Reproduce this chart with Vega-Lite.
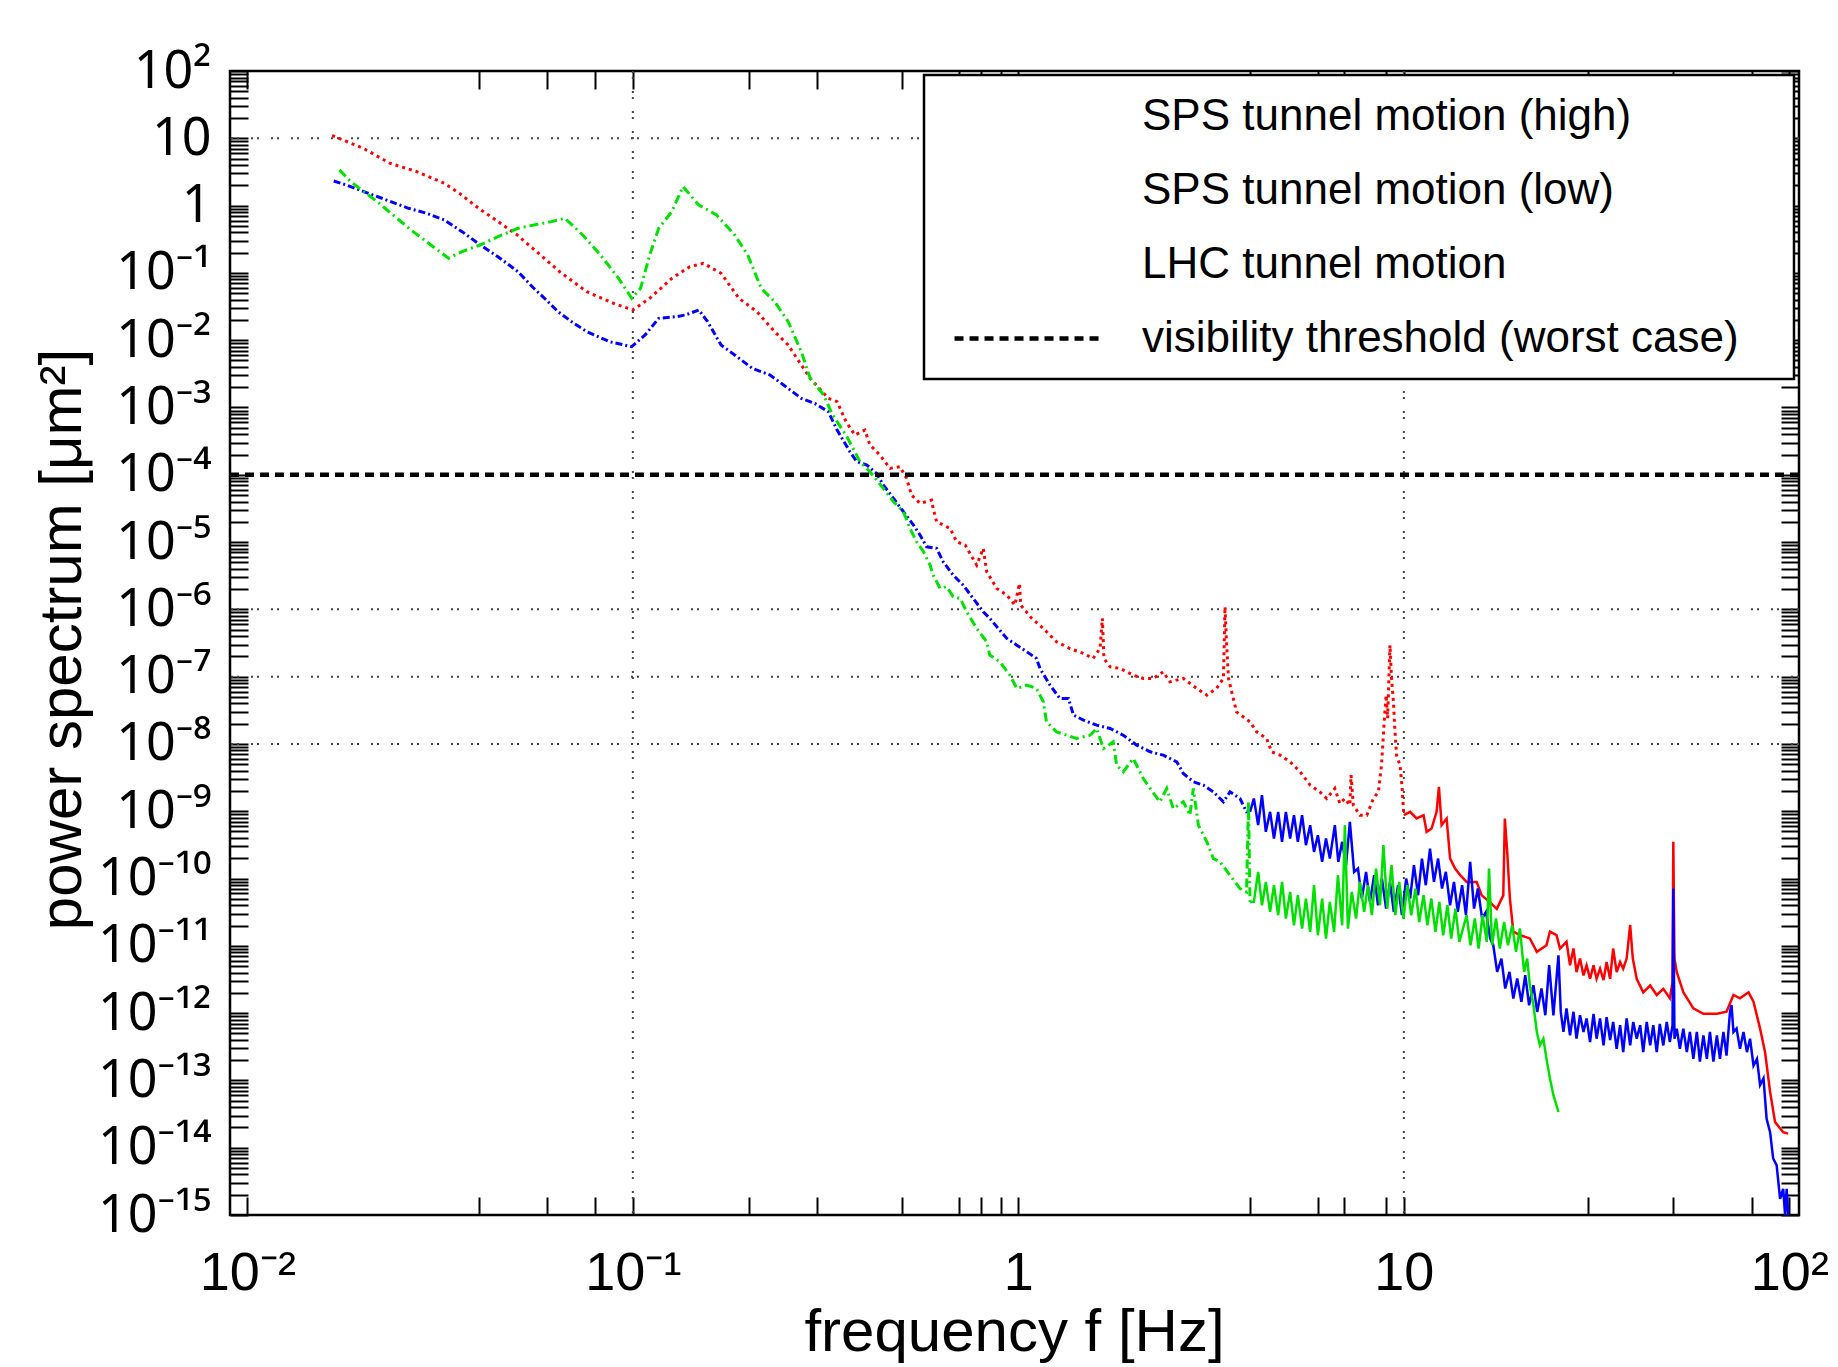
{
  "$schema": "https://vega.github.io/schema/vega-lite/v6.json",
  "width": 1569,
  "height": 1144,
  "autosize": {"type": "none"},
  "padding": {"left": 230, "top": 71, "right": 39, "bottom": 152},
  "background": "white",
  "config": {
    "font": "Liberation Sans",
    "view": {"stroke": "black", "strokeWidth": 2.5},
    "axis": {
      "domain": false, "grid": false, "tickColor": "black", "tickWidth": 2, "tickSize": -18,
      "labelFont": "Liberation Sans", "labelFontSize": 54, "labelColor": "black",
      "titleFont": "Liberation Sans", "titleFontSize": 60, "titleFontWeight": "normal", "titleColor": "black",
      "labelOverlap": false, "labelFlush": false
    }
  },
  "datasets": {
    "red": [
      {"f":0.0166,"p":11.0},{"f":0.0200,"p":7.08},{"f":0.0234,"p":4.27},{"f":0.0275,"p":3.20},{"f":0.0324,"p":2.15},{"f":0.0355,"p":1.52},{"f":0.0398,"p":0.912},{"f":0.0447,"p":0.578},{"f":0.0501,"p":0.366},{"f":0.0589,"p":0.165},{"f":0.0646,"p":0.104},{"f":0.0759,"p":0.0526},{"f":0.0891,"p":0.0353},{"f":0.100,"p":0.0281},{"f":0.1106,"p":0.0419},{"f":0.1262,"p":0.0830},{"f":0.1406,"p":0.1239},{"f":0.1524,"p":0.1387},{"f":0.1694,"p":0.0986},{"f":0.1884,"p":0.0419},{"f":0.2099,"p":0.0265},{"f":0.2333,"p":0.01337},{"f":0.2529,"p":0.00847},{"f":0.2735,"p":0.00428},{"f":0.2884,"p":0.00271},{"f":0.3214,"p":0.001365},{"f":0.3388,"p":0.00122},{"f":0.3573,"p":6.14e-4},{"f":0.3767,"p":3.89e-4},{"f":0.3999,"p":4.62e-4},{"f":0.4121,"p":2.77e-4},{"f":0.4375,"p":1.963e-4},{"f":0.4645,"p":1.245e-4},{"f":0.4932,"p":1.318e-4},{"f":0.5129,"p":8.83e-5},{"f":0.5284,"p":4.99e-5},{"f":0.5559,"p":3.76e-5},{"f":0.5957,"p":4.21e-5},{"f":0.6012,"p":3.16e-5},{"f":0.6138,"p":2.00e-5},{"f":0.6653,"p":1.596e-5},{"f":0.6918,"p":1.01e-5},{"f":0.7278,"p":9.02e-6},{"f":0.7798,"p":4.55e-6},{"f":0.8110,"p":8.05e-6},{"f":0.8279,"p":3.62e-6},{"f":0.8790,"p":2.05e-6},{"f":0.9333,"p":1.63e-6},{"f":0.9795,"p":1.156e-6},{"f":1.007,"p":2.43e-6},{"f":1.014,"p":1.156e-6},{"f":1.084,"p":7.33e-7},{"f":1.161,"p":5.20e-7},{"f":1.256,"p":3.30e-7},{"f":1.361,"p":2.62e-7},{"f":1.476,"p":2.21e-7},{"f":1.563,"p":1.862e-7},{"f":1.629,"p":2.62e-7},{"f":1.652,"p":7.33e-7},{"f":1.667,"p":1.862e-7},{"f":1.730,"p":1.40e-7},{"f":1.837,"p":1.324e-7},{"f":1.986,"p":1.054e-7},{"f":2.109,"p":9.40e-8},{"f":2.239,"p":9.40e-8},{"f":2.377,"p":1.180e-7},{"f":2.472,"p":8.39e-8},{"f":2.679,"p":9.40e-8},{"f":2.904,"p":6.67e-8},{"f":3.083,"p":5.31e-8},{"f":3.266,"p":6.67e-8},{"f":3.404,"p":9.40e-8},{"f":3.436,"p":1.09e-6},{"f":3.467,"p":3.30e-7},{"f":3.508,"p":9.40e-8},{"f":3.681,"p":3.00e-8},{"f":3.990,"p":2.13e-8},{"f":4.150,"p":1.514e-8},{"f":4.406,"p":1.205e-8},{"f":4.539,"p":7.64e-9},{"f":4.775,"p":6.81e-9},{"f":5.070,"p":5.42e-9},{"f":5.383,"p":3.85e-9},{"f":5.715,"p":2.44e-9},{"f":6.053,"p":1.94e-9},{"f":6.310,"p":1.545e-9},{"f":6.622,"p":2.18e-9},{"f":6.823,"p":1.303e-9},{"f":7.031,"p":1.545e-9},{"f":7.244,"p":1.230e-9},{"f":7.295,"p":3.44e-9},{"f":7.396,"p":1.230e-9},{"f":7.691,"p":8.73e-10},{"f":8.017,"p":8.73e-10},{"f":8.337,"p":1.545e-9},{"f":8.590,"p":1.94e-9},{"f":8.750,"p":4.83e-9},{"f":8.892,"p":2.13e-8},{"f":8.995,"p":5.31e-8},{"f":9.078,"p":2.39e-8},{"f":9.204,"p":2.94e-7},{"f":9.290,"p":9.40e-8},{"f":9.397,"p":4.23e-8},{"f":9.462,"p":1.90e-8},{"f":9.572,"p":6.81e-9},{"f":9.772,"p":4.83e-9},{"f":9.886,"p":2.44e-9},{"f":10.0,"p":8.73e-10},{"f":10.38,"p":9.79e-10},{"f":10.79,"p":7.80e-10},{"f":11.25,"p":8.73e-10},{"f":11.46,"p":4.94e-10},{"f":11.80,"p":5.53e-10},{"f":12.16,"p":9.79e-10},{"f":12.33,"p":2.30e-9},{"f":12.53,"p":6.21e-10},{"f":12.91,"p":7.80e-10},{"f":13.18,"p":1.99e-10},{"f":13.58,"p":1.41e-10},{"f":14.00,"p":1.122e-10},{"f":14.55,"p":8.91e-11},{"f":15.45,"p":8.91e-11},{"f":15.92,"p":5.62e-11},{"f":16.71,"p":4.47e-11},{"f":17.42,"p":3.55e-11},{"f":18.11,"p":5.62e-11},{"f":18.28,"p":7.80e-10},{"f":18.54,"p":2.49e-10},{"f":18.84,"p":5.01e-11},{"f":19.23,"p":1.622e-11},{"f":20.00,"p":1.445e-11},{"f":21.23,"p":1.288e-11},{"f":22.13,"p":8.13e-12},{"f":23.44,"p":1.023e-11},{"f":23.93,"p":1.622e-11},{"f":24.89,"p":1.445e-11},{"f":25.41,"p":9.12e-12},{"f":26.42,"p":1.148e-11},{"f":26.98,"p":5.13e-12},{"f":27.54,"p":9.12e-12},{"f":28.05,"p":4.07e-12},{"f":28.64,"p":6.46e-12},{"f":29.24,"p":3.63e-12},{"f":29.79,"p":5.13e-12},{"f":30.41,"p":3.24e-12},{"f":31.05,"p":5.13e-12},{"f":31.62,"p":3.24e-12},{"f":32.28,"p":4.57e-12},{"f":32.96,"p":3.09e-12},{"f":33.57,"p":5.75e-12},{"f":34.28,"p":3.24e-12},{"f":34.91,"p":9.12e-12},{"f":35.65,"p":4.07e-12},{"f":36.39,"p":5.75e-12},{"f":37.07,"p":4.57e-12},{"f":37.84,"p":6.46e-12},{"f":38.64,"p":2.04e-11},{"f":39.26,"p":6.46e-12},{"f":40.18,"p":3.24e-12},{"f":41.78,"p":2.04e-12},{"f":43.55,"p":2.57e-12},{"f":45.29,"p":1.86e-12},{"f":47.10,"p":2.29e-12},{"f":48.98,"p":1.66e-12},{"f":49.77,"p":2.88e-12},{"f":50.0,"p":3.51e-10},{"f":50.35,"p":6.46e-12},{"f":51.05,"p":4.07e-12},{"f":53.09,"p":2.04e-12},{"f":56.36,"p":1.175e-12},{"f":59.84,"p":9.77e-13},{"f":64.86,"p":9.77e-13},{"f":68.71,"p":1.047e-12},{"f":71.61,"p":1.86e-12},{"f":74.47,"p":1.66e-12},{"f":78.34,"p":2.04e-12},{"f":80.72,"p":1.479e-12},{"f":83.95,"p":5.89e-13},{"f":86.50,"p":2.63e-13},{"f":89.13,"p":6.76e-14},{"f":91.83,"p":2.40e-14},{"f":96.38,"p":1.70e-14},{"f":99.31,"p":1.62e-14}
    ],
    "blue": [
      {"f":0.01675,"p":2.32},{"f":0.01803,"p":2.03},{"f":0.02004,"p":1.614},{"f":0.02234,"p":1.285},{"f":0.02618,"p":0.912},{"f":0.02917,"p":0.769},{"f":0.03243,"p":0.611},{"f":0.03606,"p":0.410},{"f":0.04018,"p":0.260},{"f":0.04467,"p":0.174},{"f":0.05035,"p":0.1042},{"f":0.05534,"p":0.0590},{"f":0.05902,"p":0.0419},{"f":0.06397,"p":0.0265},{"f":0.07031,"p":0.01778},{"f":0.07603,"p":0.01337},{"f":0.08690,"p":0.00951},{"f":0.09931,"p":0.00800},{"f":0.1076,"p":0.01194},{"f":0.1167,"p":0.02113},{"f":0.1297,"p":0.02234},{"f":0.1368,"p":0.02366},{"f":0.1483,"p":0.0281},{"f":0.1563,"p":0.01884},{"f":0.1694,"p":0.00847},{"f":0.1837,"p":0.00603},{"f":0.2042,"p":0.00381},{"f":0.2270,"p":0.00303},{"f":0.2460,"p":0.00216},{"f":0.2735,"p":0.001365},{"f":0.2965,"p":0.001151},{"f":0.3214,"p":8.65e-4},{"f":0.3388,"p":4.62e-4},{"f":0.3656,"p":2.20e-4},{"f":0.3811,"p":1.563e-4},{"f":0.4046,"p":1.393e-4},{"f":0.4285,"p":1.05e-4},{"f":0.4467,"p":7.03e-5},{"f":0.4742,"p":4.46e-5},{"f":0.5035,"p":2.82e-5},{"f":0.5346,"p":1.79e-5},{"f":0.5559,"p":1.27e-5},{"f":0.5781,"p":8.51e-6},{"f":0.6138,"p":8.05e-6},{"f":0.6383,"p":5.09e-6},{"f":0.6776,"p":3.23e-6},{"f":0.7194,"p":2.29e-6},{"f":0.7638,"p":1.45e-6},{"f":0.8110,"p":9.20e-7},{"f":0.8433,"p":7.33e-7},{"f":0.8872,"p":5.20e-7},{"f":0.9333,"p":3.70e-7},{"f":0.9908,"p":2.94e-7},{"f":1.052,"p":2.34e-7},{"f":1.114,"p":1.862e-7},{"f":1.138,"p":1.324e-7},{"f":1.208,"p":7.48e-8},{"f":1.282,"p":4.74e-8},{"f":1.349,"p":4.74e-8},{"f":1.390,"p":2.68e-8},{"f":1.476,"p":2.26e-8},{"f":1.596,"p":1.90e-8},{"f":1.730,"p":1.698e-8},{"f":1.871,"p":1.349e-8},{"f":2.028,"p":9.59e-9},{"f":2.198,"p":7.64e-9},{"f":2.377,"p":6.81e-9},{"f":2.576,"p":5.42e-9},{"f":2.679,"p":3.64e-9},{"f":2.844,"p":2.74e-9},{"f":3.020,"p":2.44e-9},{"f":3.206,"p":1.94e-9},{"f":3.404,"p":1.380e-9},{"f":3.540,"p":1.94e-9},{"f":3.758,"p":1.545e-9},{"f":3.908,"p":9.79e-10},{"f":3.990,"p":9.79e-10},
      {"f":4.083,"p":1.545e-9},{"f":4.188,"p":6.21e-10},{"f":4.285,"p":1.734e-9},{"f":4.385,"p":4.94e-10},{"f":4.498,"p":9.79e-10},{"f":4.603,"p":3.93e-10},{"f":4.721,"p":9.79e-10},{"f":4.831,"p":3.51e-10},{"f":4.943,"p":9.79e-10},{"f":5.070,"p":3.93e-10},{"f":5.188,"p":8.73e-10},{"f":5.309,"p":3.51e-10},{"f":5.445,"p":8.73e-10},{"f":5.572,"p":3.13e-10},{"f":5.715,"p":6.21e-10},{"f":5.848,"p":2.49e-10},{"f":5.984,"p":4.41e-10},{"f":6.138,"p":1.77e-10},{"f":6.281,"p":3.93e-10},{"f":6.427,"p":1.98e-10},{"f":6.622,"p":6.21e-10},{"f":6.761,"p":1.77e-10},{"f":6.918,"p":3.51e-10},{"f":7.079,"p":1.578e-10},{"f":7.244,"p":6.95e-10},{"f":7.430,"p":1.256e-10},{"f":7.603,"p":1.406e-10},{"f":7.780,"p":5.04e-11},{"f":7.980,"p":1.256e-10},{"f":8.166,"p":4.50e-11},{"f":8.375,"p":1.12e-10},{"f":8.570,"p":4.01e-11},{"f":8.770,"p":1.0e-10},{"f":8.995,"p":3.58e-11},{"f":9.204,"p":8.91e-11},{"f":9.419,"p":3.19e-11},{"f":9.661,"p":7.96e-11},{"f":9.886,"p":2.85e-11},{"f":10.14,"p":1.0e-10},{"f":10.38,"p":5.04e-11},{"f":10.62,"p":1.578e-10},{"f":10.89,"p":5.65e-11},{"f":11.14,"p":1.98e-10},{"f":11.40,"p":7.96e-11},{"f":11.69,"p":2.79e-10},{"f":11.97,"p":8.91e-11},{"f":12.27,"p":1.98e-10},{"f":12.56,"p":7.10e-11},{"f":12.85,"p":1.256e-10},{"f":13.18,"p":4.01e-11},{"f":13.49,"p":8.91e-11},{"f":13.80,"p":3.19e-11},{"f":14.16,"p":7.96e-11},{"f":14.49,"p":2.85e-11},{"f":14.86,"p":1.77e-10},{"f":15.21,"p":3.58e-11},{"f":15.56,"p":7.10e-11},{"f":15.96,"p":2.54e-11},{"f":16.33,"p":3.19e-11},{"f":16.75,"p":1.282e-11},{"f":17.06,"p":1.021e-11},{"f":17.46,"p":4.10e-12},{"f":17.91,"p":6.47e-12},{"f":18.32,"p":2.32e-12},{"f":18.79,"p":4.10e-12},{"f":19.23,"p":1.644e-12},{"f":19.68,"p":3.27e-12},{"f":20.18,"p":1.469e-12},{"f":20.65,"p":3.66e-12},{"f":21.13,"p":1.309e-12},{"f":21.68,"p":2.60e-12},{"f":22.18,"p":1.042e-12},{"f":22.75,"p":2.32e-12},{"f":23.28,"p":9.29e-13},{"f":23.82,"p":5.15e-12},{"f":24.43,"p":9.29e-13},{"f":25.18,"p":7.24e-12},{"f":25.53,"p":1.042e-12},
      {"f":25.94,"p":5.25e-13},{"f":26.42,"p":1.175e-12},{"f":26.98,"p":4.68e-13},{"f":27.54,"p":1.047e-12},{"f":28.05,"p":4.17e-13},{"f":28.64,"p":9.33e-13},{"f":29.24,"p":5.25e-13},{"f":29.79,"p":8.32e-13},{"f":30.41,"p":3.72e-13},{"f":31.05,"p":9.77e-13},{"f":31.62,"p":4.17e-13},{"f":32.28,"p":8.32e-13},{"f":32.96,"p":3.31e-13},{"f":33.57,"p":8.71e-13},{"f":34.28,"p":3.98e-13},{"f":34.91,"p":7.41e-13},{"f":35.65,"p":2.95e-13},{"f":36.39,"p":6.61e-13},{"f":37.07,"p":2.63e-13},{"f":37.84,"p":8.32e-13},{"f":38.64,"p":3.31e-13},{"f":39.36,"p":7.41e-13},{"f":40.18,"p":4.17e-13},{"f":41.02,"p":6.61e-13},{"f":41.78,"p":2.63e-13},{"f":42.66,"p":7.41e-13},{"f":43.55,"p":3.31e-13},{"f":44.36,"p":6.61e-13},{"f":45.29,"p":2.63e-13},{"f":46.13,"p":6.92e-13},{"f":47.10,"p":3.31e-13},{"f":48.08,"p":7.41e-13},{"f":48.98,"p":3.72e-13},{"f":49.77,"p":6.61e-13},{"f":50.0,"p":7.08e-11},{"f":50.35,"p":4.17e-13},{"f":51.05,"p":5.89e-13},{"f":52.00,"p":2.95e-13},{"f":53.09,"p":5.89e-13},{"f":54.20,"p":2.63e-13},{"f":55.21,"p":5.25e-13},{"f":56.36,"p":2.09e-13},{"f":57.54,"p":5.25e-13},{"f":58.61,"p":1.91e-13},{"f":59.84,"p":4.68e-13},{"f":61.09,"p":2.09e-13},{"f":62.23,"p":5.25e-13},{"f":63.53,"p":1.91e-13},{"f":64.86,"p":4.68e-13},{"f":66.07,"p":2.09e-13},{"f":67.45,"p":5.25e-13},{"f":68.71,"p":2.34e-13},{"f":70.15,"p":1.047e-12},{"f":70.79,"p":1.318e-12},{"f":71.61,"p":5.25e-13},{"f":72.95,"p":5.89e-13},{"f":74.47,"p":2.95e-13},{"f":76.03,"p":5.25e-13},{"f":77.62,"p":2.63e-13},{"f":79.07,"p":4.17e-13},{"f":80.72,"p":1.66e-13},{"f":82.41,"p":2.09e-13},{"f":83.95,"p":8.51e-14},{"f":85.70,"p":1.072e-13},{"f":87.30,"p":2.69e-14},{"f":89.13,"p":1.70e-14},{"f":90.78,"p":6.92e-15},{"f":92.68,"p":5.50e-15},{"f":94.62,"p":1.738e-15},{"f":96.38,"p":2.45e-15},{"f":97.50,"p":1.0e-15},{"f":98.40,"p":2.45e-15},{"f":99.31,"p":1.0e-15}
    ],
    "green": [
      {"f":0.01734,"p":3.39},{"f":0.01854,"p":2.27},{"f":0.02004,"p":1.614},{"f":0.02173,"p":1.146},{"f":0.02415,"p":0.685},{"f":0.02692,"p":0.410},{"f":0.02992,"p":0.260},{"f":0.03327,"p":0.165},{"f":0.03606,"p":0.207},{"f":0.04018,"p":0.260},{"f":0.04467,"p":0.346},{"f":0.05035,"p":0.460},{"f":0.05534,"p":0.515},{"f":0.06152,"p":0.578},{"f":0.06668,"p":0.647},{"f":0.07413,"p":0.366},{"f":0.08241,"p":0.1845},{"f":0.09183,"p":0.0830},{"f":0.09931,"p":0.0419},{"f":0.1047,"p":0.0590},{"f":0.1106,"p":0.1845},{"f":0.1167,"p":0.460},{"f":0.1262,"p":0.813},{"f":0.1349,"p":1.914},{"f":0.1483,"p":1.021},{"f":0.1648,"p":0.726},{"f":0.1837,"p":0.366},{"f":0.1986,"p":0.1845},{"f":0.2153,"p":0.0590},{"f":0.2333,"p":0.0373},{"f":0.2529,"p":0.01884},{"f":0.2735,"p":0.00675},{"f":0.2884,"p":0.00271},{"f":0.3126,"p":0.00153},{"f":0.3296,"p":7.73e-4},{"f":0.3573,"p":3.89e-4},{"f":0.3882,"p":1.563e-4},{"f":0.4121,"p":1.109e-4},{"f":0.4467,"p":6.28e-5},{"f":0.4742,"p":3.97e-5},{"f":0.5035,"p":2.82e-5},{"f":0.5236,"p":1.596e-5},{"f":0.5445,"p":1.01e-5},{"f":0.5675,"p":7.18e-6},{"f":0.5902,"p":4.55e-6},{"f":0.6012,"p":3.23e-6},{"f":0.6266,"p":2.05e-6},{"f":0.6516,"p":2.17e-6},{"f":0.6776,"p":1.538e-6},{"f":0.7063,"p":1.45e-6},{"f":0.7345,"p":9.20e-7},{"f":0.7798,"p":5.20e-7},{"f":0.8279,"p":3.30e-7},{"f":0.8433,"p":2.09e-7},{"f":0.8954,"p":1.66e-7},{"f":0.9506,"p":1.054e-7},{"f":0.9908,"p":6.67e-8},{"f":1.052,"p":7.48e-8},{"f":1.114,"p":6.67e-8},{"f":1.161,"p":4.23e-8},{"f":1.183,"p":2.13e-8},{"f":1.256,"p":1.514e-8},{"f":1.334,"p":1.349e-8},{"f":1.416,"p":1.205e-8},{"f":1.535,"p":1.349e-8},{"f":1.596,"p":1.694e-8},{"f":1.663,"p":8.55e-9},{"f":1.762,"p":1.074e-8},{"f":1.799,"p":4.84e-9},{"f":1.871,"p":3.85e-9},{"f":1.986,"p":6.08e-9},{"f":2.109,"p":3.06e-9},{"f":2.198,"p":2.18e-9},{"f":2.328,"p":1.380e-9},{"f":2.427,"p":2.18e-9},{"f":2.523,"p":1.096e-9},{"f":2.679,"p":1.380e-9},{"f":2.786,"p":8.73e-10},{"f":2.844,"p":2.18e-9},{"f":2.931,"p":6.21e-10},{"f":3.083,"p":3.51e-10},{"f":3.206,"p":1.98e-10},{"f":3.334,"p":1.77e-10},{"f":3.540,"p":1.12e-10},{"f":3.758,"p":7.08e-11},{"f":3.908,"p":6.31e-11},{"f":3.954,"p":1.380e-9},{"f":3.990,"p":4.47e-11},
      {"f":4.083,"p":4.50e-11},{"f":4.188,"p":1.256e-10},{"f":4.285,"p":4.01e-11},{"f":4.385,"p":8.91e-11},{"f":4.498,"p":3.19e-11},{"f":4.603,"p":7.96e-11},{"f":4.721,"p":2.85e-11},{"f":4.831,"p":8.91e-11},{"f":4.943,"p":2.54e-11},{"f":5.070,"p":6.34e-11},{"f":5.188,"p":2.02e-11},{"f":5.309,"p":5.65e-11},{"f":5.445,"p":1.80e-11},{"f":5.572,"p":5.04e-11},{"f":5.715,"p":1.61e-11},{"f":5.848,"p":7.96e-11},{"f":5.984,"p":1.435e-11},{"f":6.138,"p":5.04e-11},{"f":6.281,"p":1.282e-11},{"f":6.427,"p":4.50e-11},{"f":6.592,"p":1.61e-11},{"f":6.745,"p":1.12e-10},{"f":6.918,"p":2.02e-11},{"f":7.031,"p":6.21e-10},{"f":7.161,"p":1.80e-11},{"f":7.328,"p":6.34e-11},{"f":7.516,"p":2.54e-11},{"f":7.691,"p":8.91e-11},{"f":7.889,"p":3.19e-11},{"f":8.072,"p":7.96e-11},{"f":8.260,"p":2.85e-11},{"f":8.472,"p":1.406e-10},{"f":8.670,"p":4.01e-11},{"f":8.851,"p":3.13e-10},{"f":9.057,"p":3.58e-11},{"f":9.290,"p":1.578e-10},{"f":9.506,"p":2.85e-11},{"f":9.727,"p":8.91e-11},{"f":9.977,"p":2.54e-11},{"f":10.21,"p":7.96e-11},{"f":10.45,"p":2.85e-11},{"f":10.72,"p":7.10e-11},{"f":10.96,"p":2.26e-11},{"f":11.25,"p":5.65e-11},{"f":11.51,"p":2.02e-11},{"f":11.78,"p":5.04e-11},{"f":12.08,"p":1.61e-11},{"f":12.36,"p":4.50e-11},{"f":12.65,"p":1.435e-11},{"f":12.97,"p":4.01e-11},{"f":13.27,"p":1.282e-11},{"f":13.61,"p":3.58e-11},{"f":13.93,"p":1.143e-11},{"f":14.55,"p":2.85e-11},{"f":14.89,"p":1.021e-11},{"f":15.28,"p":2.55e-11},{"f":15.63,"p":9.12e-12},{"f":16.00,"p":2.85e-11},{"f":16.41,"p":1.146e-11},{"f":16.63,"p":1.41e-10},{"f":16.94,"p":1.021e-11},{"f":17.34,"p":2.55e-11},{"f":17.74,"p":9.12e-12},{"f":18.20,"p":2.27e-11},{"f":18.62,"p":1.021e-11},{"f":19.10,"p":2.02e-11},{"f":19.54,"p":8.13e-12},{"f":20.00,"p":1.807e-11},{"f":20.51,"p":4.10e-12},{"f":20.89,"p":6.47e-12},
      {"f":21.23,"p":2.57e-12},{"f":21.68,"p":1.318e-12},{"f":22.13,"p":5.25e-13},{"f":22.54,"p":3.31e-13},{"f":23.01,"p":4.17e-13},{"f":23.44,"p":2.09e-13},{"f":23.93,"p":1.072e-13},{"f":24.43,"p":6.03e-14},{"f":24.89,"p":4.27e-14},{"f":25.18,"p":3.39e-14}
    ],
    "vgrid": [{"f": 0.1}, {"f": 10}],
    "hgrid": [{"p": 10}, {"p": 1e-6}, {"p": 1e-7}, {"p": 1e-8}],
    "threshold": [{"p": 1e-4}]
  },
  "layer": [
    {
      "data": {"name": "vgrid"},
      "mark": {"type": "rule", "color": "#444444", "strokeWidth": 2, "strokeDash": [2, 4, 2, 12]},
      "encoding": {
        "x": {"field": "f", "type": "quantitative",
          "scale": {"type": "log", "domain": [0.009016, 105.93], "nice": false},
          "axis": {"orient": "top", "labels": false, "title": null,
            "values": [0.01,0.04,0.06,0.08,0.1,0.2,0.3,0.5,0.7,0.8,0.9,1,4,6,7,9,10,30,50,80,100]}}
      }
    },
    {
      "data": {"name": "hgrid"},
      "mark": {"type": "rule", "color": "#444444", "strokeWidth": 2, "strokeDash": [2, 4, 2, 12]},
      "encoding": {
        "y": {"field": "p", "type": "quantitative",
          "scale": {"type": "log", "domain": [1e-15, 100], "nice": false},
          "axis": {"orient": "right", "labels": false, "title": null,
            "values": [1e-15,2e-15,3e-15,4e-15,5e-15,6e-15,7e-15,8e-15,9e-15,1e-14,2e-14,3e-14,4e-14,5e-14,6e-14,7e-14,8e-14,9e-14,1e-13,2e-13,3e-13,4e-13,5e-13,6e-13,7e-13,8e-13,9e-13,1e-12,2e-12,3e-12,4e-12,5e-12,6e-12,7e-12,8e-12,9e-12,1e-11,2e-11,3e-11,4e-11,5e-11,6e-11,7e-11,8e-11,9e-11,1e-10,2e-10,3e-10,4e-10,5e-10,6e-10,7e-10,8e-10,9e-10,1e-9,2e-9,3e-9,4e-9,5e-9,6e-9,7e-9,8e-9,9e-9,1e-8,2e-8,3e-8,4e-8,5e-8,6e-8,7e-8,8e-8,9e-8,1e-7,2e-7,3e-7,4e-7,5e-7,6e-7,7e-7,8e-7,9e-7,1e-6,2e-6,3e-6,4e-6,5e-6,6e-6,7e-6,8e-6,9e-6,1e-5,2e-5,3e-5,4e-5,5e-5,6e-5,7e-5,8e-5,9e-5,1e-4,2e-4,3e-4,4e-4,5e-4,6e-4,7e-4,8e-4,9e-4,0.001,0.002,0.003,0.004,0.005,0.006,0.007,0.008,0.009,0.01,0.02,0.03,0.04,0.05,0.06,0.07,0.08,0.09,0.1,0.2,0.3,0.4,0.5,0.6,0.7,0.8,0.9,1,2,3,4,5,6,7,8,9,10,20,30,40,50,60,70,80,90,100]}}
      }
    },
    {
      "data": {"name": "red"},
      "transform": [{"filter": "datum.f <= 10.0"}],
      "mark": {"type": "line", "strokeWidth": 3, "strokeDash": [3, 4], "clip": true},
      "encoding": {
        "x": {"field": "f", "type": "quantitative",
          "scale": {"type": "log", "domain": [0.009016, 105.93], "nice": false},
          "axis": {"orient": "bottom", "title": "frequency f [Hz]", "titleX": 784, "titleY": 135,
            "titleAlign": "center", "titleBaseline": "alphabetic",
            "labelPadding": 49, "labelBaseline": "top", "labelAlign": "center",
            "values": [0.01,0.04,0.06,0.08,0.1,0.2,0.3,0.5,0.7,0.8,0.9,1,4,6,7,9,10,30,50,80,100],
            "labelExpr": "abs(log(datum.value)/LN10 - round(log(datum.value)/LN10)) < 0.01 ? ['10⁻²','10⁻¹','1','10','10²'][round(log(datum.value)/LN10)+2] : ''"}},
        "y": {"field": "p", "type": "quantitative",
          "scale": {"type": "log", "domain": [1e-15, 100], "nice": false},
          "axis": {"orient": "left", "title": "power spectrum [μm²]", "titleX": -150, "titleY": 568,
            "titleAngle": 270, "titleAlign": "center", "titleBaseline": "alphabetic",
            "labelPadding": 37, "labelAlign": "right", "labelBaseline": "middle", "labelFont": "Noto Sans", "labelFontSize": 52,
            "values": [1e-15,2e-15,3e-15,4e-15,5e-15,6e-15,7e-15,8e-15,9e-15,1e-14,2e-14,3e-14,4e-14,5e-14,6e-14,7e-14,8e-14,9e-14,1e-13,2e-13,3e-13,4e-13,5e-13,6e-13,7e-13,8e-13,9e-13,1e-12,2e-12,3e-12,4e-12,5e-12,6e-12,7e-12,8e-12,9e-12,1e-11,2e-11,3e-11,4e-11,5e-11,6e-11,7e-11,8e-11,9e-11,1e-10,2e-10,3e-10,4e-10,5e-10,6e-10,7e-10,8e-10,9e-10,1e-9,2e-9,3e-9,4e-9,5e-9,6e-9,7e-9,8e-9,9e-9,1e-8,2e-8,3e-8,4e-8,5e-8,6e-8,7e-8,8e-8,9e-8,1e-7,2e-7,3e-7,4e-7,5e-7,6e-7,7e-7,8e-7,9e-7,1e-6,2e-6,3e-6,4e-6,5e-6,6e-6,7e-6,8e-6,9e-6,1e-5,2e-5,3e-5,4e-5,5e-5,6e-5,7e-5,8e-5,9e-5,1e-4,2e-4,3e-4,4e-4,5e-4,6e-4,7e-4,8e-4,9e-4,0.001,0.002,0.003,0.004,0.005,0.006,0.007,0.008,0.009,0.01,0.02,0.03,0.04,0.05,0.06,0.07,0.08,0.09,0.1,0.2,0.3,0.4,0.5,0.6,0.7,0.8,0.9,1,2,3,4,5,6,7,8,9,10,20,30,40,50,60,70,80,90,100],
            "labelExpr": "abs(log(datum.value)/LN10 - round(log(datum.value)/LN10)) < 0.01 ? ['10⁻¹⁵','10⁻¹⁴','10⁻¹³','10⁻¹²','10⁻¹¹','10⁻¹⁰','10⁻⁹','10⁻⁸','10⁻⁷','10⁻⁶','10⁻⁵','10⁻⁴','10⁻³','10⁻²','10⁻¹','1','10','10²'][round(log(datum.value)/LN10)+15] : ''"}},
        "color": {"datum": "SPS tunnel motion (high)", "type": "nominal",
          "scale": {"domain": ["SPS tunnel motion (high)", "SPS tunnel motion (low)", "LHC tunnel motion", "visibility threshold (worst case)"],
                    "range": ["#ff0000", "#0000ff", "#00e000", "#000000"]},
          "legend": {"orient": "none", "legendX": 694, "legendY": 4,
            "title": "\u00a0", "titleOrient": "right", "titlePadding": 37, "titleFontSize": 2,
            "padding": 18, "rowPadding": 28, "fillColor": "white", "strokeColor": "black",
            "labelFont": "Liberation Sans", "labelFontSize": 44, "labelColor": "black", "labelLimit": 1000,
            "symbolType": "M -3.5 0 L 3.5 0", "symbolSize": 1739, "symbolStrokeWidth": 4.5, "symbolDash": [9, 6],
            "symbolOffset": 62, "labelOffset": 91,
            "encode": {
              "symbols": {"update": {
                "opacity": {"signal": "datum.value == 'visibility threshold (worst case)' ? 1 : 0"},
                "fill": {"value": "transparent"},
                "strokeDash": {"value": [9, 6]},
                "strokeWidth": {"value": 4.5}}},
              "legend": {"update": {"strokeWidth": {"value": 2.5}}}
            }}}
      }
    },
    {
      "data": {"name": "red"},
      "transform": [{"filter": "datum.f >= 10.0"}],
      "mark": {"type": "line", "strokeWidth": 2.5, "clip": true},
      "encoding": {
        "x": {"field": "f", "type": "quantitative", "scale": {"type": "log", "domain": [0.009016, 105.93], "nice": false}, "axis": null},
        "y": {"field": "p", "type": "quantitative", "scale": {"type": "log", "domain": [1e-15, 100], "nice": false}, "axis": null},
        "color": {"datum": "SPS tunnel motion (high)", "type": "nominal"}
      }
    },
    {
      "data": {"name": "blue"},
      "transform": [{"filter": "datum.f <= 3.99"}],
      "mark": {"type": "line", "strokeWidth": 3, "strokeDash": [7, 3, 2, 3], "clip": true},
      "encoding": {
        "x": {"field": "f", "type": "quantitative", "scale": {"type": "log", "domain": [0.009016, 105.93], "nice": false}, "axis": null},
        "y": {"field": "p", "type": "quantitative", "scale": {"type": "log", "domain": [1e-15, 100], "nice": false}, "axis": null},
        "color": {"datum": "SPS tunnel motion (low)", "type": "nominal"}
      }
    },
    {
      "data": {"name": "blue"},
      "transform": [{"filter": "datum.f >= 3.99"}],
      "mark": {"type": "line", "strokeWidth": 2.5, "clip": true},
      "encoding": {
        "x": {"field": "f", "type": "quantitative", "scale": {"type": "log", "domain": [0.009016, 105.93], "nice": false}, "axis": null},
        "y": {"field": "p", "type": "quantitative", "scale": {"type": "log", "domain": [1e-15, 100], "nice": false}, "axis": null},
        "color": {"datum": "SPS tunnel motion (low)", "type": "nominal"}
      }
    },
    {
      "data": {"name": "green"},
      "transform": [{"filter": "datum.f <= 3.99"}],
      "mark": {"type": "line", "strokeWidth": 3, "strokeDash": [9, 4, 2, 4], "clip": true},
      "encoding": {
        "x": {"field": "f", "type": "quantitative", "scale": {"type": "log", "domain": [0.009016, 105.93], "nice": false}, "axis": null},
        "y": {"field": "p", "type": "quantitative", "scale": {"type": "log", "domain": [1e-15, 100], "nice": false}, "axis": null},
        "color": {"datum": "LHC tunnel motion", "type": "nominal"}
      }
    },
    {
      "data": {"name": "green"},
      "transform": [{"filter": "datum.f >= 3.99"}],
      "mark": {"type": "line", "strokeWidth": 2.5, "clip": true},
      "encoding": {
        "x": {"field": "f", "type": "quantitative", "scale": {"type": "log", "domain": [0.009016, 105.93], "nice": false}, "axis": null},
        "y": {"field": "p", "type": "quantitative", "scale": {"type": "log", "domain": [1e-15, 100], "nice": false}, "axis": null},
        "color": {"datum": "LHC tunnel motion", "type": "nominal"}
      }
    },
    {
      "data": {"name": "threshold"},
      "mark": {"type": "rule", "strokeWidth": 4.5, "strokeDash": [9, 6]},
      "encoding": {
        "y": {"field": "p", "type": "quantitative", "scale": {"type": "log", "domain": [1e-15, 100], "nice": false}, "axis": null},
        "color": {"datum": "visibility threshold (worst case)", "type": "nominal"}
      }
    }
  ],
  "resolve": {"axis": {"x": "independent", "y": "independent"}}
}
